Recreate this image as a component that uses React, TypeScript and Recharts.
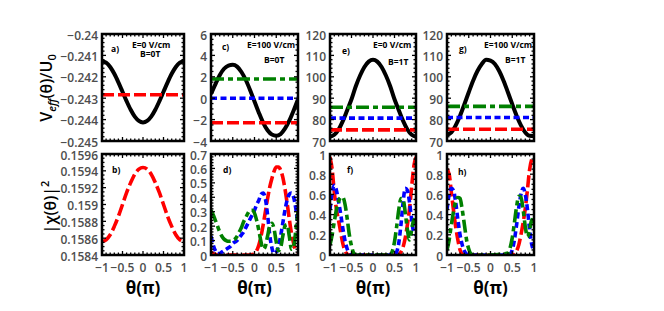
import React from 'react';
import { LineChart, Line, XAxis, YAxis } from 'recharts';

const FONT = '"Open Sans", "DejaVu Sans", sans-serif';

// ---------- categories ----------
const THETA = [-1, -0.9, -0.8, -0.7, -0.6, -0.5, -0.4, -0.3, -0.2, -0.1, 0, 0.1, 0.2, 0.3, 0.4, 0.5, 0.6, 0.7, 0.8, 0.9, 1];
const THETA_FINE = [-1, -0.95, -0.9, -0.85, -0.8, -0.75, -0.7, -0.65, -0.6, -0.55, -0.5, -0.45, -0.4, -0.35, -0.3, -0.25, -0.2, -0.15, -0.1, -0.05,
  0, 0.05, 0.1, 0.15, 0.2, 0.25, 0.3, 0.35, 0.4, 0.45, 0.5, 0.55, 0.6, 0.65, 0.7, 0.75, 0.8, 0.85, 0.9, 0.95, 1];
const THETA_EDGE = [-1, -0.95, -0.9, -0.85, -0.8, -0.75, -0.7, -0.65, -0.6, -0.55, -0.5, -0.45, -0.4, 0,
  0.4, 0.45, 0.5, 0.55, 0.6, 0.65, 0.7, 0.75, 0.8, 0.85, 0.9, 0.95, 1];

// ---------- tick labels ----------
const X_MAJOR = [-1, -0.5, 0, 0.5, 1];
const A_Y_MAJOR = [-0.245, -0.244, -0.243, -0.242, -0.241, -0.24];
const B_Y_MAJOR = [0.1584, 0.1586, 0.1588, 0.159, 0.1592, 0.1594, 0.1596];
const C_Y_MAJOR = [-4, -2, 0, 2, 4, 6];
const D_Y_MAJOR = [0, 0.1, 0.2, 0.3, 0.4, 0.5, 0.6, 0.7];
const E_Y_MAJOR = [70, 80, 90, 100, 110, 120];
const F_Y_MAJOR = [0, 0.2, 0.4, 0.6, 0.8, 1];

// ---------- series values ----------
// a) E=0, B=0
const A_BLACK = [-0.24127, -0.24134, -0.24154, -0.24186, -0.24226, -0.2427, -0.24314, -0.24354, -0.24386, -0.24406, -0.24413,
  -0.24406, -0.24386, -0.24354, -0.24314, -0.2427, -0.24226, -0.24186, -0.24154, -0.24134, -0.24127];
const A_RED_LEVEL = -0.24284;
// b)
const B_RED = [0.15856, 0.15858, 0.15864, 0.15874, 0.15886, 0.159, 0.15914, 0.15926, 0.15936, 0.15942, 0.15944,
  0.15942, 0.15936, 0.15926, 0.15914, 0.159, 0.15886, 0.15874, 0.15864, 0.15858, 0.15856];
// c) E=100, B=0
const C_BLACK = [0.4, 1.3, 2.15, 2.75, 3.05, 3.12, 2.95, 2.45, 1.7, 0.75, -0.3, -1.35, -2.3, -3.0, -3.4, -3.5, -3.35, -2.85, -2.1, -1.15, -0.1];
const C_GREEN_LEVEL = 1.8;
const C_BLUE_LEVEL = 0;
const C_RED_LEVEL = -2.3;
// d)
const D_RED = [0.02, 0.01, 0.005, 0, 0, 0, 0, 0, 0, 0, 0, 0, 0, 0, 0, 0, 0, 0, 0, 0.003,
  0.01, 0.03, 0.07, 0.13, 0.21, 0.3, 0.39, 0.47, 0.53, 0.58, 0.61, 0.61, 0.59, 0.54, 0.46, 0.36, 0.25, 0.15, 0.08, 0.03, 0.02];
const D_BLUE = [0.13, 0.07, 0.03, 0.01, 0.01, 0.02, 0.03, 0.04, 0.05, 0.06, 0.08, 0.09, 0.1, 0.12, 0.14, 0.16, 0.19, 0.22, 0.25, 0.28,
  0.31, 0.35, 0.38, 0.42, 0.43, 0.39, 0.28, 0.14, 0.05, 0.01, 0.02, 0.06, 0.13, 0.22, 0.31, 0.38, 0.42, 0.43, 0.4, 0.32, 0.2];
const D_GREEN = [0.31, 0.28, 0.24, 0.2, 0.16, 0.13, 0.11, 0.1, 0.095, 0.095, 0.1, 0.11, 0.13, 0.16, 0.19, 0.23, 0.26, 0.29, 0.31, 0.31,
  0.29, 0.24, 0.17, 0.09, 0.04, 0.06, 0.13, 0.2, 0.22, 0.18, 0.09, 0.03, 0.05, 0.13, 0.2, 0.21, 0.13, 0.04, 0.06, 0.17, 0.3];
// e) E=0, B=1T
const E_BLACK = [72, 72.9, 75.4, 79.4, 84.4, 89.5, 95.6, 100.6, 104.6, 107.1, 108, 107.1, 104.6, 100.6, 95.6, 89.5, 84.4, 79.4, 75.4, 72.9, 72];
const E_GREEN_LEVEL = 85.8;
const E_BLUE_LEVEL = 80.7;
const E_RED_LEVEL = 75.2;
// f)
const F_RED = [0.97, 0.85, 0.62, 0.45, 0.34, 0.22, 0.11, 0.04, 0.01, 0, 0, 0, 0, 0,
  0, 0, 0, 0, 0, 0.03, 0.08, 0.17, 0.3, 0.46, 0.68, 0.88, 0.97];
const F_BLUE = [0.45, 0.62, 0.69, 0.64, 0.53, 0.4, 0.26, 0.14, 0.06, 0.01, 0, 0, 0, 0,
  0, 0, 0, 0.03, 0.12, 0.3, 0.52, 0.66, 0.64, 0.52, 0.35, 0.22, 0.2];
const F_GREEN = [0.1, 0.2, 0.33, 0.45, 0.53, 0.57, 0.57, 0.5, 0.36, 0.2, 0.09, 0.02, 0, 0,
  0, 0.04, 0.13, 0.28, 0.45, 0.56, 0.55, 0.42, 0.25, 0.15, 0.25, 0.35, 0.3];
// g) E=100, B=1T
const G_BLACK = [72.9, 74, 77.3, 81.8, 87.2, 92.8, 98.2, 102.7, 106, 108, 107.6, 106, 102.7, 98.2, 92.8, 87.2, 81.8, 77.3, 74, 72.4, 72.3];
const G_GREEN_LEVEL = 86.2;
const G_BLUE_LEVEL = 81;
const G_RED_LEVEL = 75.5;
// h)
const H_RED = [0.85, 0.8, 0.62, 0.44, 0.28, 0.15, 0.05, 0.01, 0, 0, 0, 0, 0, 0,
  0, 0, 0, 0.01, 0.04, 0.1, 0.2, 0.32, 0.46, 0.65, 0.85, 0.95, 0.98];
const H_BLUE = [0.45, 0.6, 0.66, 0.64, 0.52, 0.35, 0.2, 0.1, 0.04, 0.01, 0, 0, 0, 0,
  0, 0.01, 0.05, 0.15, 0.3, 0.47, 0.6, 0.66, 0.6, 0.45, 0.25, 0.1, 0.05];
const H_GREEN = [0.05, 0.15, 0.3, 0.43, 0.53, 0.57, 0.56, 0.45, 0.3, 0.15, 0.06, 0.01, 0, 0,
  0.02, 0.07, 0.17, 0.32, 0.48, 0.58, 0.57, 0.45, 0.28, 0.18, 0.25, 0.35, 0.3];

// ---------- styles ----------
const RED = '#ff0000';
const BLUE = '#0000ff';
const GREEN = '#008000';
const RED_DASH = '12 4';
const BLUE_DASH = '6 3.5';
const GREEN_DASH = '13 4 5 4';
const TICK_FILL = '#4d4d4d';

type Pt = { t: number; v: number };
const zip = (xs: number[], ys: number[]): Pt[] => xs.map((t, i) => ({ t, v: ys[i] }));
const level = (v: number): Pt[] => [{ t: -1, v }, { t: 1, v }];

function subdivide(majors: number[], n: number): number[] {
  const out: number[] = [];
  for (let i = 0; i < majors.length - 1; i++) {
    const a = majors[i];
    const b = majors[i + 1];
    for (let k = 0; k < n; k++) out.push(a + ((b - a) * k) / n);
  }
  out.push(majors[majors.length - 1]);
  return out;
}

const fmt = (v: number) => (v < 0 ? '\u2212' + String(Math.abs(v)) : String(v));
const findMajor = (majors: number[], v: number) =>
  majors.find((m) => Math.abs(m - v) < 1e-9 * Math.max(1, Math.abs(m)) + 1e-12);

function XTick(props: any) {
  const { x, y, payload, majors, plotH, showLabel } = props;
  const m = findMajor(majors, payload.value);
  const len = m !== undefined ? 4 : 2.5;
  return (
    <g>
      <line x1={x} y1={y} x2={x} y2={y - len} stroke="#000" strokeWidth={1.3} />
      <line x1={x} y1={y - plotH} x2={x} y2={y - plotH + len} stroke="#000" strokeWidth={1.3} />
      {showLabel && m !== undefined && (
        <text x={x} y={y + 17} textAnchor="middle" fontFamily={FONT} fontSize={12} fontWeight={600} fill={TICK_FILL}>
          {fmt(m)}
        </text>
      )}
    </g>
  );
}

function YTick(props: any) {
  const { x, y, payload, majors, plotW } = props;
  const m = findMajor(majors, payload.value);
  const len = m !== undefined ? 4 : 2.5;
  return (
    <g>
      <line x1={x} y1={y} x2={x + len} y2={y} stroke="#000" strokeWidth={1.3} />
      <line x1={x + plotW} y1={y} x2={x + plotW - len} y2={y} stroke="#000" strokeWidth={1.3} />
      {m !== undefined && (
        <text x={x - 4} y={y} dy="0.47em" textAnchor="end" fontFamily={FONT} fontSize={12} fontWeight={600} fill={TICK_FILL}>
          {fmt(m)}
        </text>
      )}
    </g>
  );
}

type Rect = { x: number; y: number; w: number; h: number };
type Series = { data: Pt[]; color: string; dash?: string; width?: number; linear?: boolean };

const LEFT = 62;
const PAD = 9;

function Panel(props: { rect: Rect; yMajors: number[]; ySub: number; series: Series[]; bottom: boolean }) {
  const { rect, yMajors, ySub, series, bottom } = props;
  const BOT = bottom ? 30 : 9;
  const w = LEFT + rect.w + PAD;
  const h = PAD + rect.h + BOT;
  const yMinor = subdivide(yMajors, ySub);
  const xMinor = subdivide(X_MAJOR, 5);
  return (
    <div style={{ position: 'absolute', left: rect.x - LEFT, top: rect.y - PAD, width: w, height: h }}>
      <LineChart width={w} height={h} margin={{ top: PAD, right: PAD, left: 0, bottom: 0 }}>
        <XAxis
          type="number"
          dataKey="t"
          domain={[-1, 1]}
          ticks={xMinor}
          interval={0}
          height={BOT}
          tickSize={0}
          tickMargin={0}
          axisLine={false}
          tickLine={false}
          allowDataOverflow
          tick={<XTick majors={X_MAJOR} plotH={rect.h} showLabel={bottom} />}
        />
        <YAxis
          type="number"
          domain={[yMajors[0], yMajors[yMajors.length - 1]]}
          ticks={yMinor}
          interval={0}
          width={LEFT}
          tickSize={0}
          tickMargin={0}
          axisLine={false}
          tickLine={false}
          allowDataOverflow
          tick={<YTick majors={yMajors} plotW={rect.w} />}
        />
        {series.map((s, i) => (
          <Line
            key={i}
            data={s.data}
            dataKey="v"
            type={s.linear ? 'linear' : 'monotone'}
            stroke={s.color}
            strokeWidth={s.width ?? 3.6}
            strokeDasharray={s.dash}
            dot={false}
            activeDot={false}
            isAnimationActive={false}
          />
        ))}
      </LineChart>
    </div>
  );
}

const TOP_Y = 34;
const TOP_H = 107;
const BOT_Y = 154;
const BOT_H = 101;
const COLS = [
  { x: 102, w: 82 },
  { x: 211, w: 87 },
  { x: 330, w: 86 },
  { x: 447, w: 87 },
];

const BLACK_W = 4;

const panels = [
  {
    rect: { x: COLS[0].x, y: TOP_Y, w: COLS[0].w, h: TOP_H }, yMajors: A_Y_MAJOR, ySub: 5, bottom: false,
    series: [
      { data: zip(THETA, A_BLACK), color: '#000', width: BLACK_W },
      { data: level(A_RED_LEVEL), color: RED, dash: RED_DASH, linear: true },
    ],
  },
  {
    rect: { x: COLS[1].x, y: TOP_Y, w: COLS[1].w, h: TOP_H }, yMajors: C_Y_MAJOR, ySub: 4, bottom: false,
    series: [
      { data: zip(THETA, C_BLACK), color: '#000', width: BLACK_W },
      { data: level(C_RED_LEVEL), color: RED, dash: RED_DASH, linear: true },
      { data: level(C_BLUE_LEVEL), color: BLUE, dash: BLUE_DASH, linear: true },
      { data: level(C_GREEN_LEVEL), color: GREEN, dash: GREEN_DASH, linear: true },
    ],
  },
  {
    rect: { x: COLS[2].x, y: TOP_Y, w: COLS[2].w, h: TOP_H }, yMajors: E_Y_MAJOR, ySub: 5, bottom: false,
    series: [
      { data: zip(THETA, E_BLACK), color: '#000', width: BLACK_W },
      { data: level(E_RED_LEVEL), color: RED, dash: RED_DASH, linear: true },
      { data: level(E_BLUE_LEVEL), color: BLUE, dash: BLUE_DASH, linear: true },
      { data: level(E_GREEN_LEVEL), color: GREEN, dash: GREEN_DASH, linear: true },
    ],
  },
  {
    rect: { x: COLS[3].x, y: TOP_Y, w: COLS[3].w, h: TOP_H }, yMajors: E_Y_MAJOR, ySub: 5, bottom: false,
    series: [
      { data: zip(THETA, G_BLACK), color: '#000', width: BLACK_W },
      { data: level(G_RED_LEVEL), color: RED, dash: RED_DASH, linear: true },
      { data: level(G_BLUE_LEVEL), color: BLUE, dash: BLUE_DASH, linear: true },
      { data: level(G_GREEN_LEVEL), color: GREEN, dash: GREEN_DASH, linear: true },
    ],
  },
  {
    rect: { x: COLS[0].x, y: BOT_Y, w: COLS[0].w, h: BOT_H }, yMajors: B_Y_MAJOR, ySub: 4, bottom: true,
    series: [{ data: zip(THETA, B_RED), color: RED, dash: RED_DASH }],
  },
  {
    rect: { x: COLS[1].x, y: BOT_Y, w: COLS[1].w, h: BOT_H }, yMajors: D_Y_MAJOR, ySub: 5, bottom: true,
    series: [
      { data: zip(THETA_FINE, D_RED), color: RED, dash: RED_DASH },
      { data: zip(THETA_FINE, D_BLUE), color: BLUE, dash: BLUE_DASH },
      { data: zip(THETA_FINE, D_GREEN), color: GREEN, dash: GREEN_DASH },
    ],
  },
  {
    rect: { x: COLS[2].x, y: BOT_Y, w: COLS[2].w, h: BOT_H }, yMajors: F_Y_MAJOR, ySub: 4, bottom: true,
    series: [
      { data: zip(THETA_EDGE, F_RED), color: RED, dash: RED_DASH },
      { data: zip(THETA_EDGE, F_BLUE), color: BLUE, dash: BLUE_DASH },
      { data: zip(THETA_EDGE, F_GREEN), color: GREEN, dash: GREEN_DASH },
    ],
  },
  {
    rect: { x: COLS[3].x, y: BOT_Y, w: COLS[3].w, h: BOT_H }, yMajors: F_Y_MAJOR, ySub: 4, bottom: true,
    series: [
      { data: zip(THETA_EDGE, H_RED), color: RED, dash: RED_DASH },
      { data: zip(THETA_EDGE, H_BLUE), color: BLUE, dash: BLUE_DASH },
      { data: zip(THETA_EDGE, H_GREEN), color: GREEN, dash: GREEN_DASH },
    ],
  },
];

const ANN = { fontFamily: FONT, fontSize: 8.5, fontWeight: 700, fill: '#000' } as const;
const LBL = { fontFamily: FONT, fontSize: 16, fontWeight: 600, fill: '#000' } as const;

export default function App() {
  return (
    <div style={{ position: 'absolute', left: 0, top: 0, width: 664, height: 311, background: '#fff', overflow: 'hidden' }}>
      {panels.map((p, i) => (
        <Panel key={i} rect={p.rect} yMajors={p.yMajors} ySub={p.ySub} series={p.series} bottom={p.bottom} />
      ))}
      <svg width={664} height={311} style={{ position: 'absolute', left: 0, top: 0, pointerEvents: 'none' }}>
        {panels.map((p, i) => (
          <rect key={i} x={p.rect.x} y={p.rect.y} width={p.rect.w} height={p.rect.h} fill="none" stroke="#000" strokeWidth={2.5} />
        ))}
        {/* axis titles */}
        <text transform="translate(52,88) rotate(-90)" textAnchor="middle" {...LBL}>
          V<tspan fontSize={11} fontStyle="italic" dy={4}>eff</tspan>
          <tspan dy={-4}>(θ)/U</tspan>
          <tspan fontSize={11} dy={4}>0</tspan>
        </text>
        <text transform="translate(56,207) rotate(-90)" textAnchor="middle" {...LBL}>
          |χ(θ)|<tspan fontSize={11} dy={-7}>2</tspan>
        </text>
        {COLS.map((c, i) => (
          <text key={i} x={c.x + c.w / 2} y={294} textAnchor="middle" fontFamily={FONT} fontSize={17} fontWeight={700} fill="#000">
            θ(π)
          </text>
        ))}
        {/* panel annotations */}
        <text x={111} y={52} {...ANN}>a)</text>
        <text x={132} y={48} {...ANN}>E=0 V/cm</text>
        <text x={140} y={56.5} {...ANN}>B=0T</text>

        <text x={222} y={49.5} {...ANN}>c)</text>
        <text x={247} y={48} {...ANN}>E=100 V/cm</text>
        <text x={264} y={63} {...ANN}>B=0T</text>

        <text x={342} y={54} {...ANN}>e)</text>
        <text x={373} y={48} {...ANN}>E=0 V/cm</text>
        <text x={388} y={65} {...ANN}>B=1T</text>

        <text x={459} y={52} {...ANN}>g)</text>
        <text x={484} y={47.5} {...ANN}>E=100 V/cm</text>
        <text x={505} y={63} {...ANN}>B=1T</text>

        <text x={112} y={173} {...ANN}>b)</text>
        <text x={223} y={173} {...ANN}>d)</text>
        <text x={347} y={173} {...ANN}>f)</text>
        <text x={458} y={175} {...ANN}>h)</text>
      </svg>
    </div>
  );
}
